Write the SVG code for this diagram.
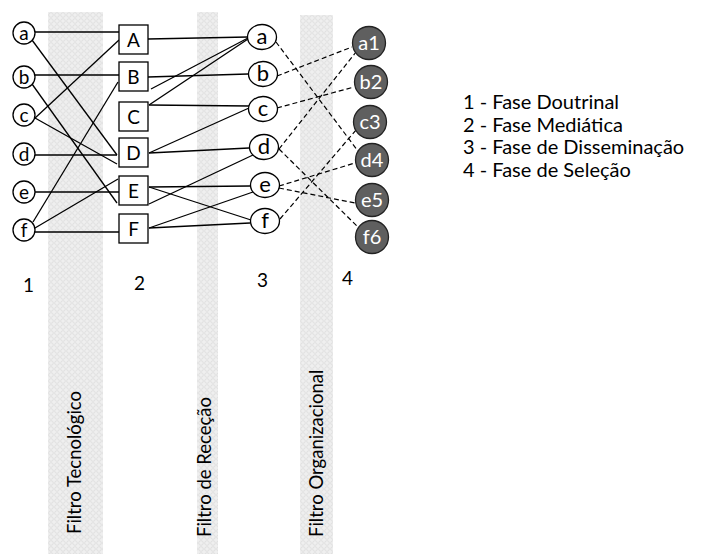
<svg xmlns="http://www.w3.org/2000/svg" width="718" height="556" viewBox="0 0 718 556">
<style>
text{font-family:Lato,"Liberation Sans",sans-serif;fill:#000}
.lbl{font-size:19px;text-anchor:middle;dominant-baseline:central}
.l3{font-size:22px;text-anchor:middle;dominant-baseline:central}
.wl{font-size:20px;text-anchor:middle;dominant-baseline:central;fill:#fff}
.n1{fill:#fff;stroke:#000;stroke-width:1.3}
.n4{fill:#5f5f5f;stroke:#222;stroke-width:1.3}
.e{stroke:#000;stroke-width:1.3;fill:none}
.d{stroke:#000;stroke-width:1.2;fill:none;stroke-dasharray:5,3}
.num{font-size:19px}
.leg{font-size:20px}
.vt{font-size:18.5px}
</style>
<defs>
<pattern id="pt" width="6" height="6" patternUnits="userSpaceOnUse">
<rect width="6" height="6" fill="#efefef"/>
<circle cx="3" cy="3" r="2.3" fill="none" stroke="#dadada" stroke-width="0.8"/>
</pattern>
</defs>
<g id="stripes">
<rect x="48" y="12" width="55" height="542" fill="url(#pt)"/>
<rect x="197" y="12" width="21" height="542" fill="url(#pt)"/>
<rect x="300" y="15" width="33" height="539" fill="url(#pt)"/>
</g>
<g id="connectors">
<line class="e" x1="35" y1="32" x2="119" y2="32"/>
<line class="e" x1="32" y1="40" x2="117" y2="155"/>
<line class="e" x1="35" y1="75" x2="119" y2="75"/>
<line class="e" x1="32" y1="84" x2="117" y2="203"/>
<line class="e" x1="34" y1="119" x2="119" y2="40"/>
<line class="e" x1="35" y1="118" x2="117" y2="164"/>
<line class="e" x1="35" y1="155" x2="117" y2="155"/>
<line class="e" x1="35" y1="192" x2="119" y2="192"/>
<line class="e" x1="33" y1="222" x2="118" y2="82"/>
<line class="e" x1="35" y1="228" x2="118" y2="179"/>
<line class="e" x1="35" y1="232" x2="119" y2="232"/>
<line class="e" x1="148" y1="39" x2="248" y2="37"/>
<line class="e" x1="148" y1="77" x2="248" y2="74"/>
<line class="e" x1="151" y1="89" x2="248" y2="38"/>
<line class="e" x1="149" y1="105" x2="248" y2="39"/>
<line class="e" x1="149" y1="105" x2="249" y2="106"/>
<line class="e" x1="149" y1="153" x2="249" y2="108"/>
<line class="e" x1="149" y1="153" x2="249" y2="148"/>
<line class="e" x1="149" y1="204" x2="253" y2="155"/>
<line class="e" x1="149" y1="187" x2="250" y2="186"/>
<line class="e" x1="149" y1="187" x2="251" y2="220"/>
<line class="e" x1="149" y1="228" x2="253" y2="192"/>
<line class="e" x1="149" y1="228" x2="250" y2="223"/>
<line class="d" x1="276" y1="42" x2="358" y2="151"/>
<line class="d" x1="277" y1="76" x2="352" y2="47"/>
<line class="d" x1="277" y1="108" x2="354" y2="87"/>
<line class="d" x1="279" y1="149" x2="356" y2="52"/>
<line class="d" x1="279" y1="149" x2="359" y2="228"/>
<line class="d" x1="279" y1="186" x2="355" y2="163"/>
<line class="d" x1="279" y1="188" x2="355" y2="203"/>
<line class="d" x1="280" y1="219" x2="356" y2="130"/>
</g>
<g id="n1a"><circle class="n1" cx="24" cy="33" r="11"/><text class="lbl" x="24" y="32">a</text></g>
<g id="n1b"><circle class="n1" cx="24" cy="77" r="11"/><text class="lbl" x="24" y="76">b</text></g>
<g id="n1c"><circle class="n1" cx="24" cy="115" r="11"/><text class="lbl" x="24" y="114">c</text></g>
<g id="n1d"><circle class="n1" cx="24" cy="154" r="11"/><text class="lbl" x="24" y="153">d</text></g>
<g id="n1e"><circle class="n1" cx="24" cy="192" r="11"/><text class="lbl" x="24" y="191">e</text></g>
<g id="n1f"><circle class="n1" cx="24" cy="230" r="11"/><text class="lbl" x="24" y="229">f</text></g>
<g id="n2A"><rect class="n1" x="119" y="25" width="29" height="29"/><text class="lbl" x="133.5" y="39.5">A</text></g>
<g id="n2B"><rect class="n1" x="119" y="62" width="29" height="29"/><text class="lbl" x="133.5" y="76.5">B</text></g>
<g id="n2C"><rect class="n1" x="119" y="102" width="29" height="29"/><text class="lbl" x="133.5" y="116.5">C</text></g>
<g id="n2D"><rect class="n1" x="119" y="138" width="29" height="29"/><text class="lbl" x="133.5" y="152.5">D</text></g>
<g id="n2E"><rect class="n1" x="119" y="176" width="29" height="29"/><text class="lbl" x="133.5" y="190.5">E</text></g>
<g id="n2F"><rect class="n1" x="119" y="214" width="29" height="29"/><text class="lbl" x="133.5" y="228.5">F</text></g>
<g id="n3a"><ellipse class="n1" cx="262" cy="37" rx="14.5" ry="12.5"/><text class="l3" x="262" y="35.5">a</text></g>
<g id="n3b"><ellipse class="n1" cx="263" cy="74" rx="14.5" ry="12.5"/><text class="l3" x="263" y="72.5">b</text></g>
<g id="n3c"><ellipse class="n1" cx="263" cy="109" rx="14.5" ry="12.5"/><text class="l3" x="263" y="107.5">c</text></g>
<g id="n3d"><ellipse class="n1" cx="264" cy="147" rx="14.5" ry="12.5"/><text class="l3" x="264" y="145.5">d</text></g>
<g id="n3e"><ellipse class="n1" cx="265" cy="185" rx="14.5" ry="12.5"/><text class="l3" x="265" y="183.5">e</text></g>
<g id="n3f"><ellipse class="n1" cx="265" cy="221" rx="14.5" ry="12.5"/><text class="l3" x="265" y="219.5">f</text></g>
<g id="n4a1"><circle class="n4" cx="369" cy="43" r="16.5"/><text class="wl" x="369" y="42">a1</text></g>
<g id="n4b2"><circle class="n4" cx="371" cy="82" r="16.5"/><text class="wl" x="371" y="81">b2</text></g>
<g id="n4c3"><circle class="n4" cx="370" cy="122" r="16.5"/><text class="wl" x="370" y="121">c3</text></g>
<g id="n4d4"><circle class="n4" cx="372" cy="160" r="16.5"/><text class="wl" x="372" y="159">d4</text></g>
<g id="n4e5"><circle class="n4" cx="372" cy="200" r="16.5"/><text class="wl" x="372" y="199">e5</text></g>
<g id="n4f6"><circle class="n4" cx="372" cy="237" r="16.5"/><text class="wl" x="372" y="236">f6</text></g>
<g id="numbers">
<text class="num" x="23" y="292">1</text>
<text class="num" x="134" y="290">2</text>
<text class="num" x="257" y="287">3</text>
<text class="num" x="342" y="285">4</text>
</g>
<g id="filters">
<text class="vt" transform="translate(81,534) rotate(-90)">Filtro Tecnológico</text>
<text class="vt" transform="translate(211,537) rotate(-90)">Filtro de Receção</text>
<text class="vt" transform="translate(323,537) rotate(-90)">Filtro Organizacional</text>
</g>
<g id="legend">
<text class="leg" x="463" y="109">1 - Fase Doutrinal</text>
<text class="leg" x="463" y="132">2 - Fase Mediática</text>
<text class="leg" x="463" y="154">3 - Fase de Disseminação</text>
<text class="leg" x="463" y="177">4 - Fase de Seleção</text>
</g>
</svg>
